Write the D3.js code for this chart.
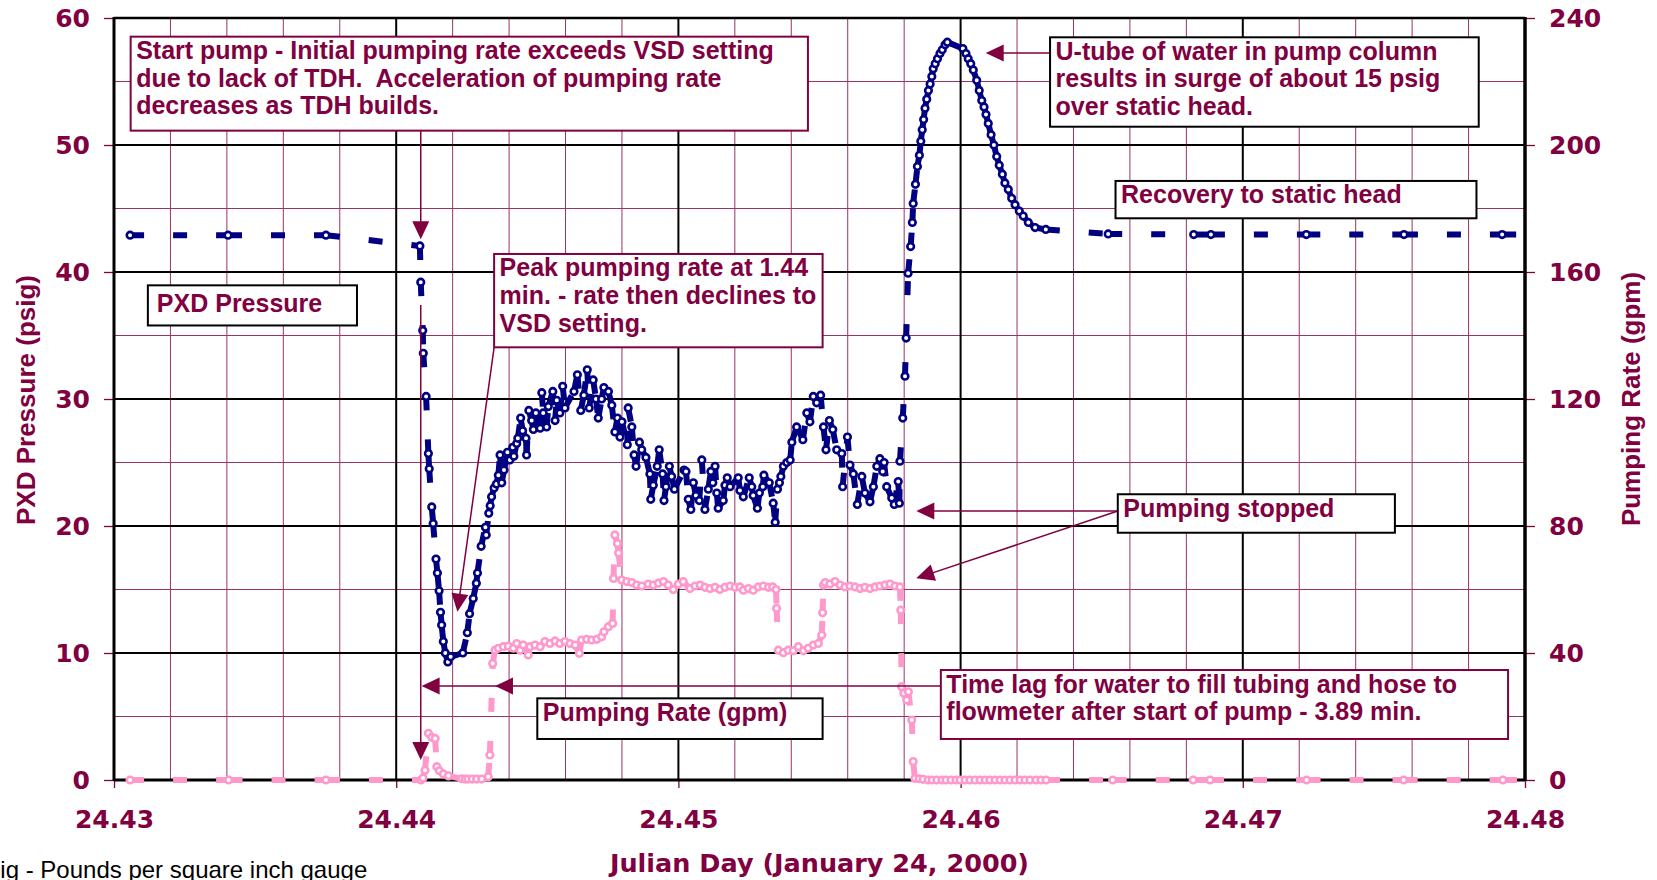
<!DOCTYPE html>
<html>
<head>
<meta charset="utf-8">
<script src="https://cdn.jsdelivr.net/npm/d3@7"></script>
<style>
  body { margin: 0; background: #fff; }
  svg text { white-space: pre; }
</style>
</head>
<body>
<svg id="chart" width="1657" height="880"></svg>
<script>
// PXD pressure (left axis) - Julian day / psig
const pressureDay = [
  24.42950, 24.43057, 24.43404, 24.43751, 24.44084, 24.44087, 24.44094, 24.44096, 24.44106, 24.44114,
  24.44117, 24.44126, 24.44131, 24.44141, 24.44146, 24.44152, 24.44157, 24.44161, 24.44167, 24.44174,
  24.44183, 24.44193, 24.44236, 24.44252, 24.44260, 24.44273, 24.44284, 24.44288, 24.44301, 24.44316,
  24.44319, 24.44328, 24.44333, 24.44338, 24.44347, 24.44355, 24.44362, 24.44368, 24.44374, 24.44382,
  24.44394, 24.44403, 24.44413, 24.44417, 24.44427, 24.44431, 24.44441, 24.44448, 24.44460, 24.44462,
  24.44470, 24.44480, 24.44486, 24.44495, 24.44510, 24.44516, 24.44521, 24.44533, 24.44539, 24.44555,
  24.44563, 24.44569, 24.44580, 24.44590, 24.44598, 24.44630, 24.44642, 24.44654, 24.44665, 24.44677,
  24.44684, 24.44698, 24.44708, 24.44716, 24.44728, 24.44736, 24.44752, 24.44764, 24.44775, 24.44784,
  24.44793, 24.44800, 24.44819, 24.44822, 24.44835, 24.44843, 24.44850, 24.44862, 24.44870, 24.44885,
  24.44899, 24.44902, 24.44911, 24.44925, 24.44932, 24.44944, 24.44949, 24.44956, 24.44968, 24.44976,
  24.44986, 24.45020, 24.45027, 24.45035, 24.45044, 24.45053, 24.45062, 24.45074, 24.45083, 24.45094,
  24.45106, 24.45115, 24.45122, 24.45130, 24.45136, 24.45141, 24.45159, 24.45165, 24.45173, 24.45183,
  24.45212, 24.45218, 24.45230, 24.45251, 24.45260, 24.45265, 24.45280, 24.45287, 24.45299, 24.45303,
  24.45322, 24.45336, 24.45343, 24.45351, 24.45358, 24.45363, 24.45372, 24.45384, 24.45396, 24.45402,
  24.45419, 24.45441, 24.45455, 24.45466, 24.45478, 24.45490, 24.45504, 24.45514, 24.45523, 24.45535,
  24.45547, 24.45561, 24.45579, 24.45582, 24.45599, 24.45608, 24.45620, 24.45634, 24.45650, 24.45661,
  24.45679, 24.45691, 24.45703, 24.45714, 24.45724, 24.45729, 24.45738, 24.45756, 24.45765, 24.45779,
  24.45783, 24.45785, 24.45795, 24.45803, 24.45807, 24.45814, 24.45823, 24.45829, 24.45832, 24.45840,
  24.45847, 24.45854, 24.45859, 24.45864, 24.45869, 24.45874, 24.45880, 24.45886, 24.45892, 24.45898,
  24.45903, 24.45910, 24.45918, 24.45927, 24.45935, 24.45945, 24.45953, 24.46008, 24.46019, 24.46027,
  24.46036, 24.46045, 24.46057, 24.46066, 24.46075, 24.46083, 24.46090, 24.46098, 24.46108, 24.46118,
  24.46128, 24.46137, 24.46148, 24.46157, 24.46169, 24.46181, 24.46193, 24.46208, 24.46222, 24.46240,
  24.46264, 24.46302, 24.46523, 24.46826, 24.46887, 24.47225, 24.47571, 24.47919, 24.48266
];
const pressurePsig = [
  42.9, 42.9, 42.9, 42.9, 42.05, 39.2, 35.4, 33.6, 30.2, 25.7,
  24.5, 21.5, 20.2, 17.4, 16.3, 14.9, 13.2, 12.2, 10.9, 10.0,
  9.3, 9.7, 10.0, 11.6, 13.1, 14.3, 15.5, 16.3, 18.4, 19.9,
  19.3, 21.0, 21.6, 22.3, 23.0, 23.3, 24.0, 25.6, 23.4, 24.4,
  25.8, 25.2, 26.2, 25.5, 26.5, 26.9, 28.5, 27.5, 26.9, 25.6,
  29.1, 28.3, 27.6, 28.9, 27.7, 30.5, 28.9, 27.8, 29.4, 30.6,
  28.3, 29.9, 28.9, 31.0, 29.3, 30.6, 31.9, 29.1, 30.3, 32.3,
  29.3, 31.5, 30.0, 28.5, 30.0, 30.9, 30.6, 29.5, 27.4, 28.5,
  27.0, 28.2, 26.4, 29.3, 27.8, 25.6, 24.7, 26.6, 26.0, 25.4,
  24.1, 22.1, 23.2, 24.7, 26.0, 24.1, 22.0, 23.1, 24.7, 23.9,
  22.9, 24.4, 24.3, 22.1, 21.3, 23.4, 22.4, 22.0, 25.2, 21.3,
  22.9, 24.3, 23.4, 24.7, 22.6, 21.4, 22.0, 23.2, 23.8, 23.1,
  23.8, 22.8, 22.3, 23.8, 23.1, 22.4, 21.4, 22.6, 23.1, 24.0,
  23.4, 21.8, 20.3, 22.9, 23.4, 23.9, 24.7, 25.0, 25.2, 26.6,
  27.8, 26.8, 28.9, 28.2, 30.2, 29.7, 30.3, 27.8, 26.0, 28.3,
  27.6, 26.0, 25.7, 23.1, 27.0, 24.8, 24.1, 21.7, 23.9, 22.6,
  21.9, 23.1, 24.7, 25.3, 24.3, 25.0, 23.1, 22.2, 21.7, 23.5,
  21.8, 25.1, 28.5, 31.8, 34.8, 39.9, 42.0, 43.9, 45.4, 46.9,
  48.3, 49.2, 50.3, 51.2, 52.0, 52.9, 53.6, 54.3, 54.8, 55.4,
  56.0, 56.4, 56.8, 57.2, 57.5, 57.9, 58.1, 57.6, 57.2, 56.8,
  56.4, 55.9, 55.1, 54.3, 53.5, 53.0, 52.4, 51.7, 50.8, 50.0,
  49.1, 48.4, 47.7, 47.0, 46.5, 45.8, 45.3, 44.8, 44.4, 43.9,
  43.5, 43.35, 43.0, 42.95, 42.95, 42.95, 42.95, 42.95, 42.95
];

// Pumping rate (right axis) - Julian day / gpm
const rateDay = [
  24.42950, 24.43057, 24.43406, 24.43751, 24.44088, 24.44095, 24.44102, 24.44114, 24.44126, 24.44138,
  24.44144, 24.44153, 24.44167, 24.44185, 24.44232, 24.44244, 24.44254, 24.44269, 24.44285, 24.44303,
  24.44326, 24.44332, 24.44342, 24.44350, 24.44362, 24.44380, 24.44397, 24.44415, 24.44427, 24.44439,
  24.44450, 24.44468, 24.44474, 24.44492, 24.44510, 24.44527, 24.44545, 24.44563, 24.44580, 24.44598,
  24.44616, 24.44634, 24.44649, 24.44657, 24.44675, 24.44693, 24.44711, 24.44728, 24.44736, 24.44752,
  24.44767, 24.44770, 24.44775, 24.44784, 24.44788, 24.44799, 24.44817, 24.44835, 24.44852, 24.44870,
  24.44893, 24.44911, 24.44929, 24.44947, 24.44964, 24.44982, 24.45000, 24.45017, 24.45041, 24.45059,
  24.45077, 24.45094, 24.45112, 24.45130, 24.45147, 24.45165, 24.45183, 24.45201, 24.45218, 24.45230,
  24.45248, 24.45265, 24.45283, 24.45301, 24.45319, 24.45334, 24.45346, 24.45348, 24.45354, 24.45372,
  24.45389, 24.45407, 24.45425, 24.45443, 24.45460, 24.45478, 24.45496, 24.45508, 24.45511, 24.45514,
  24.45520, 24.45537, 24.45555, 24.45573, 24.45590, 24.45608, 24.45626, 24.45644, 24.45661, 24.45679,
  24.45697, 24.45714, 24.45732, 24.45750, 24.45768, 24.45785, 24.45788, 24.45791, 24.45799, 24.45809,
  24.45815, 24.45827, 24.45832, 24.45838, 24.45853, 24.45867, 24.45885, 24.45899, 24.45916, 24.45934,
  24.45948, 24.45966, 24.45984, 24.45998, 24.46016, 24.46033, 24.46051, 24.46069, 24.46087, 24.46104,
  24.46122, 24.46140, 24.46157, 24.46175, 24.46193, 24.46211, 24.46228, 24.46246, 24.46267, 24.46285,
  24.46303, 24.46539, 24.46824, 24.46884, 24.47226, 24.47570, 24.47922, 24.48266
];
const rateGpm = [
  0, 0, 0, 0, 0, 0.6, 3.1, 14.7, 13.4, 13.1,
  4.2, 2.9, 1.9, 1.3, 0.4, 0.3, 0.3, 0.3, 0.3, 0.3,
  1.0, 7.9, 36.7, 40.9, 41.5, 42.0, 42.2, 41.5, 43.0, 40.9,
  42.5, 39.4, 42.0, 42.5, 42.0, 43.6, 43.0, 43.8, 43.0, 43.6,
  43.0, 42.5, 39.9, 44.1, 44.3, 44.1, 44.3, 45.1, 46.7, 48.3,
  49.3, 63.5, 77.2, 74.5, 71.5, 63.0, 62.5, 62.2, 61.4, 61.1,
  61.7, 61.4, 62.0, 62.5, 61.4, 60.0, 61.7, 62.5, 60.3, 61.1,
  61.4, 60.7, 60.3, 60.7, 60.0, 60.7, 61.1, 60.7, 60.8, 59.8,
  60.3, 59.8, 60.8, 61.1, 60.7, 60.8, 60.0, 54.1, 40.9, 40.1,
  40.9, 40.7, 42.0, 40.7, 41.5, 42.5, 43.0, 45.7, 52.7, 61.4,
  62.2, 61.7, 62.5, 61.4, 60.8, 61.1, 60.8, 60.3, 60.7, 60.3,
  60.8, 61.1, 61.4, 61.7, 61.1, 60.8, 53.5, 29.4, 27.3, 25.2,
  27.8, 18.9, 5.8, 0.5, 0.4, 0.2, 0, 0, 0, 0,
  0, 0, 0, 0, 0, 0, 0, 0, 0, 0,
  0, 0, 0, 0, 0, 0, 0, 0, 0, 0,
  0, 0, 0, 0, 0, 0, 0, 0
];

const dayTicks = [24.43, 24.44, 24.45, 24.46, 24.47, 24.48];
const psigTicks = [0, 10, 20, 30, 40, 50, 60];
const gpmTicks = [0, 40, 80, 120, 160, 200, 240];

// Colours and fonts
const maroon = "#800040";
const navy = "#000080";
const pink = "#ff99cc";
const gridMinor = "#993366";
const tickFont = '"DejaVu Sans", sans-serif';
const noteFont = '"Liberation Sans", Arial, sans-serif';

const plot = {left: 114, right: 1525, top: 18, bottom: 780};

const svg = d3.select("#chart");

const x = d3.scaleLinear().domain([24.43, 24.48]).range([plot.left, plot.right]);
const y = d3.scaleLinear().domain([0, 60]).range([plot.bottom, plot.top]);
const y2 = d3.scaleLinear().domain([0, 240]).range([plot.bottom, plot.top]);

svg.append("defs").append("clipPath").attr("id", "plotClip")
  .append("rect")
  .attr("x", plot.left).attr("y", plot.top - 5)
  .attr("width", plot.right - plot.left).attr("height", plot.bottom - plot.top + 10);

// Gridlines
const isMajor = v => Math.abs(v * 100 - Math.round(v * 100)) < 1e-6;
const minorDays = d3.range(1, 25).map(i => 24.43 + i * 0.002).filter(v => !isMajor(v));
const minorPsig = [5, 15, 25, 35, 45, 55];

const grid = svg.append("g");
grid.selectAll(".vminor").data(minorDays).join("line")
  .attr("x1", d => x(d)).attr("x2", d => x(d))
  .attr("y1", plot.top).attr("y2", plot.bottom)
  .attr("stroke", gridMinor).attr("stroke-width", 1);
grid.selectAll(".hminor").data(minorPsig).join("line")
  .attr("x1", plot.left).attr("x2", plot.right)
  .attr("y1", d => y(d)).attr("y2", d => y(d))
  .attr("stroke", gridMinor).attr("stroke-width", 1);
grid.selectAll(".vmajor").data(dayTicks.slice(1, -1)).join("line")
  .attr("x1", d => x(d)).attr("x2", d => x(d))
  .attr("y1", plot.top).attr("y2", plot.bottom)
  .attr("stroke", "#000").attr("stroke-width", 2);
grid.selectAll(".hmajor").data(psigTicks.slice(1, -1)).join("line")
  .attr("x1", plot.left).attr("x2", plot.right)
  .attr("y1", d => y(d)).attr("y2", d => y(d))
  .attr("stroke", "#000").attr("stroke-width", 2);

// Axes
const styleAxis = g => g
  .attr("font-family", tickFont).attr("font-size", 25).attr("font-weight", "bold")
  .call(g => g.select(".domain").remove())
  .call(g => g.selectAll(".tick line").attr("stroke", maroon).attr("stroke-width", 1.3))
  .call(g => g.selectAll(".tick text").attr("fill", maroon));

svg.append("g")
  .attr("transform", `translate(${plot.left},0)`)
  .call(d3.axisLeft(y).tickValues(psigTicks).tickSize(10).tickPadding(14))
  .call(styleAxis);
svg.append("g")
  .attr("transform", `translate(${plot.right},0)`)
  .call(d3.axisRight(y2).tickValues(gpmTicks).tickSize(10).tickPadding(14))
  .call(styleAxis);
svg.append("g")
  .attr("transform", `translate(0,${plot.bottom})`)
  .call(d3.axisBottom(x).tickValues(dayTicks).tickSize(8).tickPadding(22).tickFormat(d3.format(".2f")))
  .call(styleAxis);

// Plot frame
const frame = svg.append("g").attr("stroke", "#000");
frame.append("line").attr("x1", plot.left).attr("x2", plot.right).attr("y1", plot.top).attr("y2", plot.top).attr("stroke-width", 2.5);
frame.append("line").attr("x1", plot.right).attr("x2", plot.right).attr("y1", plot.top - 1).attr("y2", plot.bottom + 1).attr("stroke-width", 3.5);
frame.append("line").attr("x1", plot.left).attr("x2", plot.left).attr("y1", plot.top - 1).attr("y2", plot.bottom + 1).attr("stroke-width", 3);
frame.append("line").attr("x1", plot.left).attr("x2", plot.right).attr("y1", plot.bottom).attr("y2", plot.bottom).attr("stroke-width", 3);

// Series: dashed segments (dash restarts at every point) plus hollow markers
function drawSeries(days, values, scaleY, color) {
  const pts = days.map((d, i) => [x(d), scaleY(values[i])]);
  const g = svg.append("g").attr("clip-path", "url(#plotClip)");
  g.selectAll("line").data(d3.pairs(pts)).join("line")
    .attr("x1", d => d[0][0]).attr("y1", d => d[0][1])
    .attr("x2", d => d[1][0]).attr("y2", d => d[1][1])
    .attr("stroke", color).attr("stroke-width", 6)
    .attr("stroke-dasharray", "14,29");
  g.selectAll("circle").data(pts).join("circle")
    .attr("cx", d => d[0]).attr("cy", d => d[1]).attr("r", 3.3)
    .attr("fill", "#fff").attr("stroke", color).attr("stroke-width", 2.6);
}
drawSeries(pressureDay, pressurePsig, y, navy);
drawSeries(rateDay, rateGpm, y2, pink);

// Annotations (positions in chart units: day, psig)
const notes = [
  {x0: 24.43059, x1: 24.45459, top: 58.53, bot: 51.13, border: maroon,
   lines: ["Start pump - Initial pumping rate exceeds VSD setting", "due to lack of TDH.  Acceleration of pumping rate", "decreases as TDH builds."]},
  {x0: 24.44347, x1: 24.45511, top: 41.42, bot: 34.07, border: maroon,
   lines: ["Peak pumping rate at 1.44", "min. - rate then declines to", "VSD setting."]},
  {x0: 24.46317, x1: 24.47836, top: 58.48, bot: 51.44, border: "#000",
   lines: ["U-tube of water in pump column", "results in surge of about 15 psig", "over static head."]},
  {x0: 24.46549, x1: 24.47828, top: 47.17, bot: 44.23, border: "#000",
   lines: ["Recovery to static head"]},
  {x0: 24.43120, x1: 24.43861, top: 38.95, bot: 35.79, border: "#000", dx: 9, dy: 26.5,
   lines: ["PXD Pressure"]},
  {x0: 24.46557, x1: 24.47539, top: 22.50, bot: 19.47, border: "#000",
   lines: ["Pumping stopped"]},
  {x0: 24.45930, x1: 24.47940, top: 8.66, bot: 3.23, border: maroon,
   lines: ["Time lag for water to fill tubing and hose to", "flowmeter after start of pump - 3.89 min."]},
  {x0: 24.44500, x1: 24.45511, top: 6.43, bot: 3.23, border: "#000",
   lines: ["Pumping Rate (gpm)"]}
];

const arrows = [
  {from: [24.44087, 51.13], to: [24.44087, 42.57]},
  {from: [24.44087, 37.40], to: [24.44087, 1.57]},
  {from: [24.44347, 34.07], to: [24.44217, 13.25]},
  {from: [24.46317, 57.24], to: [24.46089, 57.24]},
  {from: [24.46557, 21.18], to: [24.45843, 21.18]},
  {from: [24.46557, 21.18], to: [24.45843, 15.88]},
  {from: [24.45930, 7.40], to: [24.44090, 7.40], extraHead: 24.44350}
];

const ann = svg.append("g");

function arrowHead(tip, dir) {
  const L = 18, W = 8.5;
  const bx = tip[0] - dir[0] * L, by = tip[1] - dir[1] * L;
  const px = -dir[1], py = dir[0];
  ann.append("path")
    .attr("d", `M${tip[0]},${tip[1]}L${bx + px * W},${by + py * W}L${bx - px * W},${by - py * W}Z`)
    .attr("fill", maroon);
}

arrows.forEach(a => {
  const p0 = [x(a.from[0]), y(a.from[1])];
  const p1 = [x(a.to[0]), y(a.to[1])];
  const len = Math.hypot(p1[0] - p0[0], p1[1] - p0[1]);
  const dir = [(p1[0] - p0[0]) / len, (p1[1] - p0[1]) / len];
  ann.append("line")
    .attr("x1", p0[0]).attr("y1", p0[1])
    .attr("x2", p1[0] - dir[0] * 10).attr("y2", p1[1] - dir[1] * 10)
    .attr("stroke", maroon).attr("stroke-width", 1.5);
  arrowHead(p1, dir);
  if (a.extraHead) arrowHead([x(a.extraHead), p1[1]], dir);
});

notes.forEach(n => {
  const bx = x(n.x0), by = y(n.top);
  const g = ann.append("g");
  g.append("rect")
    .attr("x", bx).attr("y", by)
    .attr("width", x(n.x1) - bx).attr("height", y(n.bot) - by)
    .attr("fill", "#fff").attr("stroke", n.border).attr("stroke-width", 2);
  g.append("text")
    .attr("font-family", noteFont).attr("font-size", 25).attr("font-weight", "bold")
    .attr("fill", maroon)
    .selectAll("tspan").data(n.lines).join("tspan")
    .attr("x", bx + (n.dx || 5.5))
    .attr("y", (d, i) => by + (n.dy || 22.5) + i * 27.6)
    .text(d => d);
});

// Axis titles
svg.append("text")
  .attr("x", (plot.left + plot.right) / 2).attr("y", 872)
  .attr("text-anchor", "middle")
  .attr("font-family", tickFont).attr("font-size", 25.5).attr("font-weight", "bold")
  .attr("fill", maroon)
  .text("Julian Day (January 24, 2000)");

svg.append("text")
  .attr("transform", "translate(26,400) rotate(-90)")
  .attr("text-anchor", "middle").attr("dominant-baseline", "central")
  .attr("font-family", noteFont).attr("font-size", 26).attr("font-weight", "bold")
  .attr("fill", maroon)
  .text("PXD Pressure (psig)");

svg.append("text")
  .attr("transform", "translate(1631,399) rotate(-90)")
  .attr("text-anchor", "middle").attr("dominant-baseline", "central")
  .attr("font-family", noteFont).attr("font-size", 26).attr("font-weight", "bold")
  .attr("fill", maroon)
  .text("Pumping Rate (gpm)");

// Footnote (runs off the left and bottom page edges, as in the source figure)
svg.append("text")
  .attr("x", -25).attr("y", 878)
  .attr("font-family", noteFont).attr("font-size", 24)
  .attr("fill", "#000")
  .text("psig - Pounds per square inch gauge");
</script>
</body>
</html>
